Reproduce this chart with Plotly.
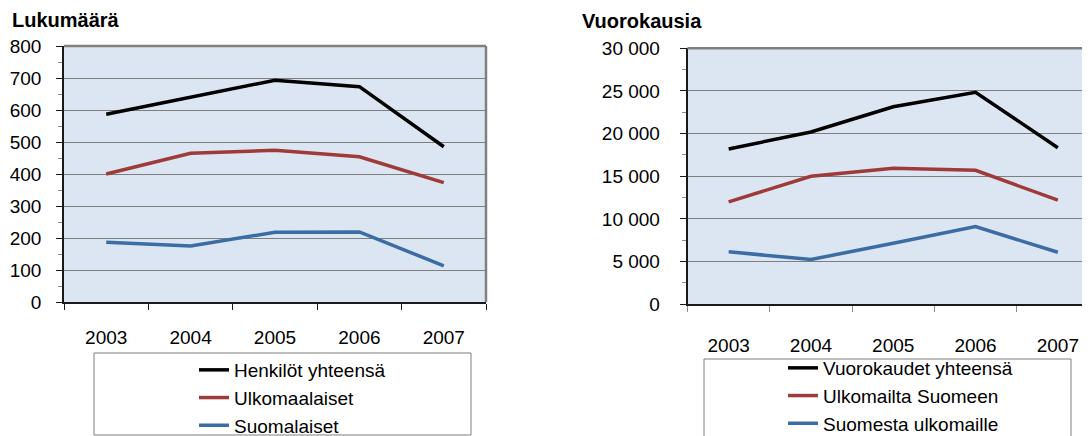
import plotly.graph_objects as go

years = ["2003", "2004", "2005", "2006", "2007"]

# Left chart: Lukumäärä
henkilot_yht = [587, 641, 693, 673, 485]
ulkomaalaiset = [400, 465, 474, 454, 373]
suomalaiset = [187, 175, 218, 219, 113]

# Right chart: Vuorokausia
vuorokaudet_yht = [18200, 20200, 23150, 24850, 18350]
ulkomailta_suomeen = [12000, 15000, 15950, 15700, 12200]
suomesta_ulkomaille = [6150, 5250, 7150, 9100, 6100]

# the page body has an 8px margin, so the figure is drawn 8px smaller
OFF = 8
WIN_W, WIN_H = 1090, 436
W, H = WIN_W - OFF, WIN_H - OFF
BLACK = "#000000"
RED = "#9E3B39"
BLUE = "#3B6CA4"
BG = "#DCE6F2"
GRID = "#7F7F7F"
FONT = "Liberation Sans, Arial, sans-serif"

def px(x):
    # window pixel -> paper fraction
    return (x - OFF) / W

def py(y):
    return 1 - (y - OFF) / H

fig = go.Figure()

left_series = [("Henkilöt yhteensä", henkilot_yht, BLACK),
               ("Ulkomaalaiset", ulkomaalaiset, RED),
               ("Suomalaiset", suomalaiset, BLUE)]
right_series = [("Vuorokaudet yhteensä", vuorokaudet_yht, BLACK),
                ("Ulkomailta Suomeen", ulkomailta_suomeen, RED),
                ("Suomesta ulkomaille", suomesta_ulkomaille, BLUE)]

for name, vals, col in left_series:
    fig.add_trace(go.Scatter(x=years, y=vals, name=name, mode="lines",
                             line=dict(color=col, width=3.5),
                             xaxis="x", yaxis="y", legend="legend"))
for name, vals, col in right_series:
    fig.add_trace(go.Scatter(x=years, y=vals, name=name, mode="lines",
                             line=dict(color=col, width=3.5),
                             xaxis="x2", yaxis="y2", legend="legend2"))

tickfont = dict(family=FONT, size=19, color="#000000")

# geometry (window pixels)
L_x0, L_x1, L_y0, L_y1 = 64, 486, 46, 302
R_x0, R_y0, R_y1 = 687.5, 48.3, 304.3
R_step = 82.3
R_range_end = -0.5 + (WIN_W - R_x0) / R_step

common_x = dict(type="category", showgrid=False, showline=True, linecolor="#1a1a1a",
                linewidth=1.5, ticks="outside", ticklen=6, tickson="boundaries",
                tickfont=tickfont, zeroline=False, fixedrange=True, automargin=False)
common_y = dict(showgrid=True, gridcolor=GRID, gridwidth=1, showline=True,
                linecolor="#1a1a1a", linewidth=1.5, ticks="outside", ticklen=6,
                tickcolor="#1a1a1a", tickfont=tickfont, zeroline=False, fixedrange=True,
                automargin=False)

fig.update_layout(
    width=W, height=H, margin=dict(l=0, r=0, t=0, b=0, autoexpand=False),
    paper_bgcolor="white", plot_bgcolor=BG,
    separators=", ",
    font=dict(family=FONT, size=19, color="#000000"),
    xaxis=dict(common_x, domain=[px(L_x0), px(L_x1)], anchor="y", range=[-0.5, 4.5],
               tickcolor="#1a1a1a", ticklabelstandoff=17),
    yaxis=dict(common_y, domain=[py(L_y1), py(L_y0)], anchor="x", range=[0, 800],
               dtick=100, ticklabelstandoff=11,
               minor=dict(dtick=50, ticks="outside", ticklen=4, tickcolor="#8c8c8c", showgrid=False)),
    xaxis2=dict(common_x, domain=[px(R_x0), 1.0], anchor="y2", range=[-0.5, R_range_end],
                tickcolor="#8c8c8c", ticklabelstandoff=23),
    yaxis2=dict(common_y, domain=[py(R_y1), py(R_y0)], anchor="x2", range=[0, 30000],
                dtick=5000, tickformat=",d", ticklabelstandoff=16,
                minor=dict(dtick=2500, ticks="outside", ticklen=4, tickcolor="#8c8c8c", showgrid=False)),
    legend=dict(x=px(194), y=py(351), xanchor="left", yanchor="top",
                bgcolor="rgba(0,0,0,0)", borderwidth=0, itemwidth=30,
                font=dict(family=FONT, size=19), tracegroupgap=0),
    legend2=dict(x=px(783), y=py(349), xanchor="left", yanchor="top",
                 bgcolor="rgba(0,0,0,0)", borderwidth=0, itemwidth=30,
                 font=dict(family=FONT, size=19), tracegroupgap=0),
    showlegend=True,
)

# plot area borders (gray) at top and right
fig.add_shape(type="line", xref="x domain", yref="y domain", x0=0, x1=1, y0=1, y1=1,
              line=dict(color="#808080", width=2.5))
fig.add_shape(type="line", xref="x domain", yref="y domain", x0=1, x1=1, y0=0, y1=1,
              line=dict(color="#808080", width=2.5))
fig.add_shape(type="line", xref="x2 domain", yref="y2 domain", x0=0, x1=1, y0=1, y1=1,
              line=dict(color="#808080", width=2.5))

# legend boxes
fig.add_shape(type="rect", xref="paper", yref="paper", x0=px(94), x1=px(471),
              y0=py(435), y1=py(353), line=dict(color="#7F7F7F", width=1))
fig.add_shape(type="rect", xref="paper", yref="paper", x0=px(704), x1=px(1071),
              y0=py(445), y1=py(359), line=dict(color="#7F7F7F", width=1))

# titles
fig.add_annotation(text="<b>Lukumäärä</b>", xref="paper", yref="paper", x=px(10), y=py(20),
                   xanchor="left", yanchor="middle", showarrow=False,
                   font=dict(family=FONT, size=20, color="#000000"))
fig.add_annotation(text="<b>Vuorokausia</b>", xref="paper", yref="paper", x=px(580), y=py(21),
                   xanchor="left", yanchor="middle", showarrow=False,
                   font=dict(family=FONT, size=20, color="#000000"))

fig.write_html("out.html")
